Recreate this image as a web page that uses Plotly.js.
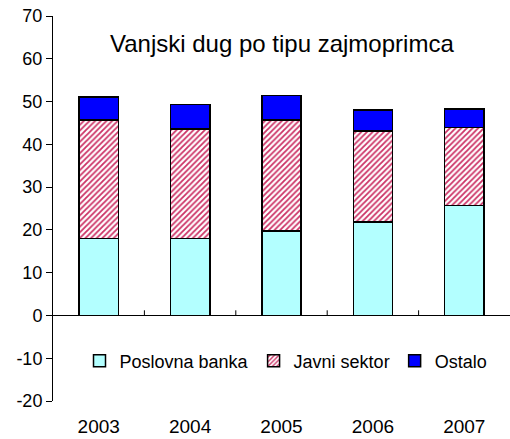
<!DOCTYPE html>
<html>
<head>
<meta charset="utf-8">
<script src="https://cdn.plot.ly/plotly-3.0.1.min.js"></script>
<style>
  html, body { margin: 0; padding: 0; background: #fff; }
  #chart { width: 510px; height: 439px; }
</style>
</head>
<body>
<div id="chart"></div>
<script>
var years = ['2003', '2004', '2005', '2006', '2007'];
var poslovnaBanka = [18.0, 18.0, 19.7, 21.9, 25.7];
var javniSektor = [27.7, 25.6, 26.0, 21.2, 18.2];
var ostalo = [5.4, 5.7, 5.7, 4.9, 4.4];
var yTickVals = [-20, -10, 0, 10, 20, 30, 40, 50, 60, 70];
var yTickText = ['-20', '-10', '0', '10', '20', '30', '40', '50', '60', '70'];
var chartTitle = 'Vanjski dug po tipu zajmoprimca';

var outline = { color: '#000', width: 1.5 };

var traces = [
    {
        x: years,
        y: poslovnaBanka,
        name: 'Poslovna banka',
        type: 'bar',
        marker: { color: '#b3ffff', line: outline }
    },
    {
        x: years,
        y: javniSektor,
        name: 'Javni sektor',
        type: 'bar',
        marker: {
            color: '#ffffff',
            line: outline,
            pattern: { shape: '/', fgcolor: '#cc3366', bgcolor: '#ffffff', size: 4, solidity: 0.45 }
        }
    },
    {
        x: years,
        y: ostalo,
        name: 'Ostalo',
        type: 'bar',
        marker: { color: '#0000ff', line: outline }
    }
];

var layout = {
    width: 510,
    height: 439,
    barmode: 'stack',
    bargap: 0.57,
    paper_bgcolor: '#fff',
    plot_bgcolor: '#fff',
    font: { family: 'Liberation Sans, Arial, sans-serif', size: 18, color: '#000' },
    margin: { l: 53, r: 0, t: 16, b: 38 },
    showlegend: true,
    legend: {
        orientation: 'h',
        x: 0.058,
        y: 0.104,
        xanchor: 'left',
        yanchor: 'middle',
        bgcolor: 'rgba(0,0,0,0)',
        font: { size: 18 },
        itemwidth: 30,
        tracegroupgap: 0,
        traceorder: 'normal'
    },
    xaxis: {
        type: 'category',
        showline: false,
        showgrid: false,
        zeroline: false,
        ticks: '',
        tickfont: { size: 19 },
        ticklabelstandoff: 12,
        fixedrange: true
    },
    yaxis: {
        range: [-20, 70],
        tickmode: 'array',
        tickvals: yTickVals,
        ticktext: yTickText,
        tickfont: { size: 18 },
        showgrid: false,
        zeroline: true,
        zerolinecolor: '#000',
        zerolinewidth: 1,
        showline: true,
        mirror: true,
        linecolor: '#000',
        linewidth: 1,
        ticks: 'outside',
        ticklen: 6,
        tickcolor: '#000',
        fixedrange: true
    },
    annotations: [
        {
            text: chartTitle,
            xref: 'paper',
            yref: 'y',
            x: 0.5,
            y: 63.5,
            showarrow: false,
            font: { size: 24, color: '#000' }
        }
    ],
    shapes: [0.5, 1.5, 2.5, 3.5].map(function (p) {
        return {
            type: 'line',
            xref: 'x',
            yref: 'y',
            x0: p, x1: p,
            y0: 0, y1: 1.2,
            line: { color: '#000', width: 1 }
        };
    })
};

Plotly.newPlot('chart', traces, layout, { displayModeBar: false, staticPlot: true });
</script>
</body>
</html>
